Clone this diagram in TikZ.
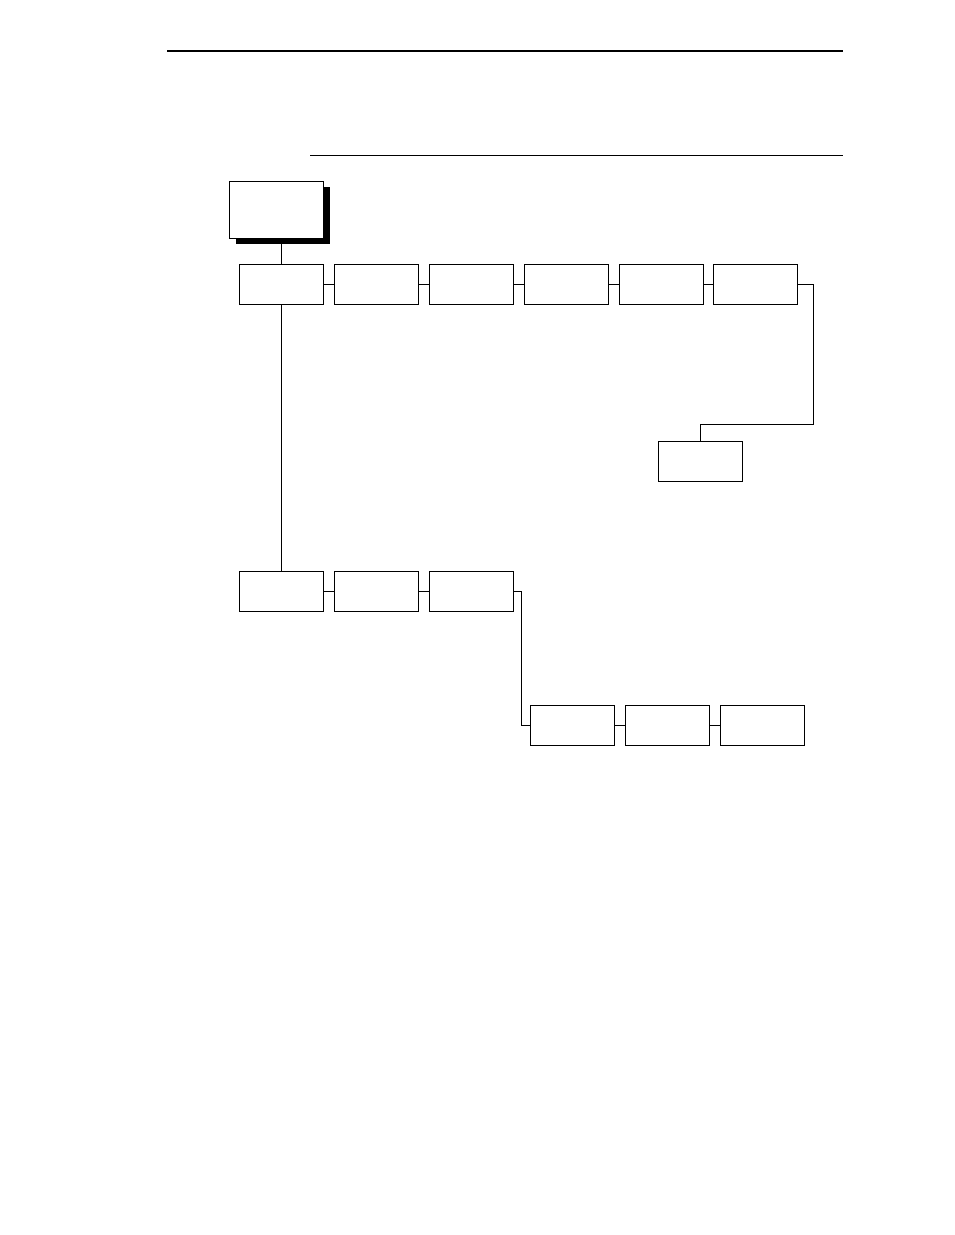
\documentclass[tikz,border=0pt]{standalone}
\usetikzlibrary{positioning}

\begin{document}
\begin{tikzpicture}[x=1pt,y=-1pt,line width=0.8pt,
  menubox/.style={rectangle,draw,fill=white,minimum width=84pt,minimum height=40pt,inner sep=0pt}]
\useasboundingbox (0,0) rectangle (954,1235);

% page rules
\draw [line width=1.6pt] (167,51) -- (843,51);
\draw [line width=0.6pt] (310,155) -- (843,155);

% top box with shadow
\fill (236,187) rectangle (330,244);
\node[menubox,minimum width=94pt,minimum height=57pt] (menu) at (276,209.5){};

% first row
\node[menubox] (a1) at (281,284){};
\node[menubox] (a2) at (376,284){};
\node[menubox] (a3) at (471,284){};
\node[menubox] (a4) at (566,284){};
\node[menubox] (a5) at (661,284){};
\node[menubox] (a6) at (755.5,284){};
\node[menubox] (a7) at (700,461.5){};

% second row
\node[menubox] (b1) at (281,591){};
\node[menubox] (b2) at (376,591){};
\node[menubox] (b3) at (471,591){};

% third row
\node[menubox] (c1) at (572,725){};
\node[menubox] (c2) at (667,725){};
\node[menubox] (c3) at (762,725){};

\coordinate (r1) at (813,424);
\coordinate (r2) at (521,725);

\draw (a1.north) -- (a1.north |- menu.south);
\draw (a1) -- (a2);
\draw (a2) -- (a3);
\draw (a3) -- (a4);
\draw (a4) -- (a5);
\draw (a5) -- (a6);
\draw (a6.east) -| (r1) -| (a7.north);
\draw (a1) -- (b1);
\draw (b1) -- (b2);
\draw (b2) -- (b3);
\draw (b3.east) -| (r2) -- (c1.west);
\draw (c1) -- (c2);
\draw (c2) -- (c3);

\end{tikzpicture}
\end{document}
